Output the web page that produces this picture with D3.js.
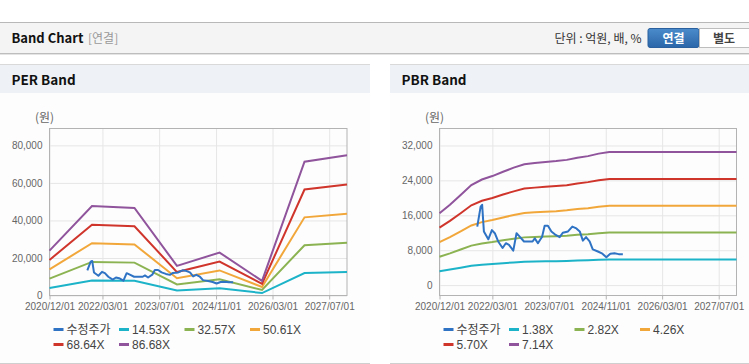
<!DOCTYPE html>
<html>
<head>
<meta charset="utf-8">
<script src="https://cdn.jsdelivr.net/npm/d3@7.9.0/dist/d3.min.js"></script>
<style>
    body { margin: 0; background: #fff; }
    svg { display: block; font-family: 'Liberation Sans', Arial, 'Noto Sans CJK KR', sans-serif; }
</style>
</head>
<body>
<div id="chart"></div>
<script>
// x axis tick labels (shared by both panels)
const xTickLabels = ['2020/12/01', '2022/03/01', '2023/07/01', '2024/11/01', '2026/03/01', '2027/07/01'];
const xDomain = ['2020-12-01', '2027-12-01'];

// adjusted share price (수정주가), same in both panels
const priceDates = [
    '2021-10-22', '2021-11-20', '2021-12-03', '2021-12-18', '2022-01-25', '2022-02-25',
    '2022-03-22', '2022-04-20', '2022-05-28', '2022-06-25', '2022-07-22', '2022-08-28',
    '2022-09-25', '2022-10-22', '2022-11-28', '2023-01-03', '2023-02-10', '2023-03-01',
    '2023-03-28', '2023-05-03', '2023-05-25', '2023-06-22', '2023-07-22', '2023-08-28',
    '2023-10-01', '2023-10-28', '2023-12-12', '2024-01-18', '2024-02-22', '2024-03-22',
    '2024-04-18', '2024-05-15', '2024-06-15', '2024-07-12', '2024-08-25', '2024-10-03',
    '2024-11-06', '2024-12-10', '2025-01-15', '2025-02-20', '2025-03-28'
];
const priceValues = [
    13400, 18000, 18400, 12300, 10500, 12600,
    11900, 10000, 8500, 9600, 9200, 7900,
    11900, 11100, 10000, 10000, 10000, 10700,
    9600, 11100, 13600, 13600, 12300, 11500,
    11000, 12000, 12300, 13400, 13000, 12300,
    10200, 11000, 10000, 8200, 7700, 7200,
    6400, 7200, 7300, 7100, 7100
];

// PER band
const perDates = ['2020-12-01', '2021-12-01', '2022-12-01', '2023-12-01', '2024-12-01', '2025-12-01', '2026-12-01', '2027-12-01'];
const perNames = ['14.53X', '32.57X', '50.61X', '68.64X', '86.68X'];
const per1453 = [4010, 7990, 7820, 2640, 3840, 1310, 11960, 12520];
const per3257 = [8990, 17910, 17520, 5930, 8600, 2930, 26800, 28080];
const per5061 = [13970, 27840, 27230, 9210, 13360, 4550, 41650, 43630];
const per6864 = [18950, 37750, 36930, 12490, 18120, 6180, 56490, 59170];
const per8668 = [23920, 47670, 46630, 15780, 22880, 7800, 71340, 74720];
const perTicks = [0, 20000, 40000, 60000, 80000];

// PBR band
const pbrDates = [
    '2020-12-01', '2021-03-01', '2021-06-01', '2021-09-01', '2021-12-01', '2022-03-01',
    '2022-06-01', '2022-09-01', '2022-12-01', '2023-03-01', '2023-06-01', '2023-09-01',
    '2023-12-01', '2024-03-01', '2024-06-01', '2024-09-01', '2024-12-01', '2027-12-01'
];
const pbrNames = ['1.38X', '2.82X', '4.26X', '5.70X', '7.14X'];
const pbr138 = [3190, 3560, 3990, 4430, 4680, 4830, 5020, 5200, 5350, 5410, 5450, 5490, 5550, 5640, 5710, 5820, 5890, 5890];
const pbr282 = [6510, 7280, 8150, 9050, 9560, 9870, 10260, 10630, 10940, 11050, 11140, 11220, 11340, 11530, 11670, 11900, 12040, 12040];
const pbr426 = [9840, 10990, 12310, 13670, 14440, 14910, 15510, 16060, 16530, 16700, 16830, 16950, 17130, 17420, 17640, 17980, 18190, 18190];
const pbr570 = [13170, 14710, 16470, 18300, 19320, 19950, 20750, 21490, 22120, 22340, 22520, 22690, 22910, 23310, 23600, 24050, 24340, 24340];
const pbr714 = [16490, 18420, 20630, 22920, 24200, 24990, 25990, 26920, 27700, 27990, 28200, 28420, 28700, 29200, 29560, 30130, 30490, 30490];
const pbrTicks = [0, 8000, 16000, 24000, 32000];

const priceName = '수정주가';
const colors = ['#2f73c4', '#1cb3c8', '#8cb352', '#f2a73b', '#d0352c', '#8f549c'];

const width = 749;
const height = 364;
const parse = d3.timeParse('%Y-%m-%d');
const parseTick = d3.timeParse('%Y/%m/%d');

const svg = d3.select('#chart')
    .append('svg')
    .attr('width', width)
    .attr('height', height);

// ---- top header bar ----
const grad = svg.append('defs').append('linearGradient')
    .attr('id', 'btn').attr('x1', 0).attr('y1', 0).attr('x2', 0).attr('y2', 1);
grad.append('stop').attr('offset', '0%').attr('stop-color', '#4b8bcb');
grad.append('stop').attr('offset', '100%').attr('stop-color', '#2a66a9');

svg.append('rect').attr('x', 0).attr('y', 22).attr('width', width).attr('height', 31).attr('fill', '#f4f4f4');
svg.append('line').attr('x1', 0).attr('x2', width).attr('y1', 22.5).attr('y2', 22.5).attr('stroke', '#b8b8b8');
svg.append('line').attr('x1', 0).attr('x2', width).attr('y1', 53.5).attr('y2', 53.5).attr('stroke', '#bdbdbd');
svg.append('line').attr('x1', 0).attr('x2', width).attr('y1', 54.5).attr('y2', 54.5).attr('stroke', '#e4e4e4');

svg.append('text').attr('x', 11.5).attr('y', 42.5)
    .style('font-family', "'Noto Sans CJK KR', sans-serif")
    .attr('font-size', 13).attr('font-weight', 700).attr('fill', '#111').text('Band Chart');
svg.append('text').attr('x', 88).attr('y', 42.5)
    .style('font-family', "'Noto Sans CJK KR', sans-serif")
    .attr('font-size', 12).attr('fill', '#999').text('[연결]');
svg.append('text').attr('x', 641.5).attr('y', 42.5).attr('text-anchor', 'end')
    .style('font-family', "'Noto Sans CJK KR', sans-serif")
    .attr('font-size', 12).attr('fill', '#333').text('단위 : 억원, 배, %');

svg.append('rect').attr('x', 648).attr('y', 28.5).attr('width', 51).attr('height', 19).attr('rx', 2)
    .attr('fill', 'url(#btn)').attr('stroke', '#2b609e');
svg.append('text').attr('x', 673.5).attr('y', 42.5).attr('text-anchor', 'middle')
    .style('font-family', "'Noto Sans CJK KR', sans-serif")
    .attr('font-size', 12).attr('font-weight', 700).attr('fill', '#fff').text('연결');
svg.append('rect').attr('x', 699.5).attr('y', 28.5).attr('width', 52).attr('height', 19)
    .attr('fill', '#fff').attr('stroke', '#bdbdbd');
svg.append('text').attr('x', 724).attr('y', 42.5).attr('text-anchor', 'middle')
    .style('font-family', "'Noto Sans CJK KR', sans-serif")
    .attr('font-size', 12).attr('font-weight', 700).attr('fill', '#444').text('별도');

// ---- panels ----
function drawPanel(cfg) {
    const g = svg.append('g');
    const p = cfg.plot;

    g.append('rect').attr('x', cfg.x0).attr('y', 64).attr('width', cfg.w).attr('height', 299).attr('fill', '#fdfdfd');
    g.append('rect').attr('x', cfg.x0).attr('y', 64).attr('width', cfg.w).attr('height', 29).attr('fill', '#eef1f6');
    g.append('line').attr('x1', cfg.x0).attr('x2', cfg.x0 + cfg.w).attr('y1', 64.5).attr('y2', 64.5).attr('stroke', '#d9d9d9');
    g.append('line').attr('x1', cfg.x0).attr('x2', cfg.x0 + cfg.w).attr('y1', 363.5).attr('y2', 363.5).attr('stroke', '#cfcfcf');
    g.append('text').attr('x', cfg.x0 + 11.5).attr('y', 84.5)
        .style('font-family', "'Noto Sans CJK KR', sans-serif")
        .attr('font-size', 13.5).attr('font-weight', 700).attr('fill', '#111').text(cfg.title);

    const xScale = d3.scaleTime()
        .domain(xDomain.map(parse))
        .range([p.left, p.right]);
    const yScale = d3.scaleLinear()
        .domain(cfg.yDomain)
        .range([p.bottom, p.top]);

    const xTicks = xTickLabels.map(parseTick);

    // gridlines
    g.append('g')
        .attr('transform', `translate(0, ${p.bottom})`)
        .call(d3.axisBottom(xScale).tickValues(xTicks).tickFormat('').tickSize(-(p.bottom - p.top)))
        .call((a) => a.select('.domain').remove())
        .call((a) => a.selectAll('line').attr('stroke', '#e6e6e6'));
    g.append('g')
        .attr('transform', `translate(${p.left}, 0)`)
        .call(d3.axisLeft(yScale).tickValues(cfg.yTicks).tickFormat('').tickSize(-(p.right - p.left)))
        .call((a) => a.select('.domain').remove())
        .call((a) => a.selectAll('line').attr('stroke', '#e6e6e6'));

    // frame
    g.append('rect')
        .attr('x', p.left).attr('y', p.top)
        .attr('width', p.right - p.left).attr('height', p.bottom - p.top)
        .attr('fill', 'none').attr('stroke', '#b3b3b3');

    // axes
    g.append('g')
        .attr('transform', `translate(0, ${p.bottom})`)
        .call(d3.axisBottom(xScale).tickValues(xTicks).tickFormat((d, i) => xTickLabels[i]).tickSize(4).tickPadding(3))
        .call((a) => a.select('.domain').remove())
        .call((a) => a.selectAll('line').attr('stroke', '#b3b3b3'))
        .call((a) => a.selectAll('text').attr('fill', '#666').attr('font-size', 10)
            .style('font-family', "'Liberation Sans', Arial, sans-serif"));
    g.append('g')
        .attr('transform', `translate(${p.left}, 0)`)
        .call(d3.axisLeft(yScale).tickValues(cfg.yTicks).tickFormat(d3.format(',')).tickSize(0).tickPadding(7))
        .call((a) => a.select('.domain').remove())
        .call((a) => a.selectAll('text').attr('fill', '#666').attr('font-size', 10)
            .style('font-family', "'Liberation Sans', Arial, sans-serif"));

    g.append('text').attr('x', p.left - 5).attr('y', 122).attr('text-anchor', 'middle')
        .style('font-family', "'Noto Sans CJK KR', sans-serif")
        .attr('font-size', 12).attr('fill', '#666').text('(원)');

    const line = d3.line()
        .x((d) => xScale(d.date))
        .y((d) => yScale(d.value));

    const bandDates = cfg.bandDates.map(parse);
    cfg.bands.forEach((vals, i) => {
        g.append('path')
            .datum(vals.map((v, j) => ({ date: bandDates[j], value: v })))
            .attr('d', line)
            .attr('fill', 'none')
            .attr('stroke', colors[i + 1])
            .attr('stroke-width', 2);
    });

    g.append('path')
        .datum(priceValues.map((v, j) => ({ date: parse(priceDates[j]), value: v })))
        .attr('d', line)
        .attr('fill', 'none')
        .attr('stroke', colors[0])
        .attr('stroke-width', 2)
        .attr('stroke-linejoin', 'round');

    // legend
    const names = [priceName, ...cfg.names];
    const legend = g.append('g');
    names.forEach((name, i) => {
        const col = i % 4;
        const row = Math.floor(i / 4);
        const lx = p.left + 4 + col * 65.5;
        const ly = 329.5 + row * 15;
        legend.append('rect')
            .attr('x', lx).attr('y', ly - 1.5)
            .attr('width', 10).attr('height', 3)
            .attr('fill', colors[i]);
        legend.append('text')
            .attr('x', lx + 13).attr('y', ly + 4.5)
            .attr('font-size', 12).attr('fill', '#444')
            .style('font-family', "'Liberation Sans', Arial, 'Noto Sans CJK KR', sans-serif")
            .text(name);
    });
}

drawPanel({
    title: 'PER Band',
    x0: 0, w: 370,
    plot: { left: 49.5, right: 347, top: 128.5, bottom: 295.5 },
    yDomain: [0, 89000],
    yTicks: perTicks,
    bandDates: perDates,
    bands: [per1453, per3257, per5061, per6864, per8668],
    names: perNames,
});

drawPanel({
    title: 'PBR Band',
    x0: 390, w: 359,
    plot: { left: 439.5, right: 736.5, top: 128.5, bottom: 295.5 },
    yDomain: [-2380, 35890],
    yTicks: pbrTicks,
    bandDates: pbrDates,
    bands: [pbr138, pbr282, pbr426, pbr570, pbr714],
    names: pbrNames,
});
</script>
</body>
</html>
